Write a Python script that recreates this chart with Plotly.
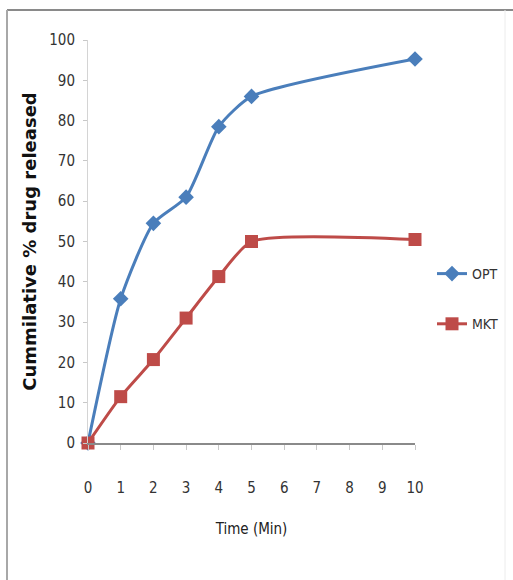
import plotly.graph_objects as go

# Dissolution time points (min) and cumulative % drug released
time_min = [0, 1, 2, 3, 4, 5, 10]
opt_release = [0, 35.8, 54.5, 61.0, 78.5, 86.0, 95.3]
mkt_release = [0, 11.5, 20.7, 31.0, 41.3, 50.0, 50.5]

x_ticks = list(range(0, 11))
y_ticks = list(range(0, 101, 10))

BLUE = "#4a7ebb"
RED = "#be4b48"
NARROW = "DejaVu Sans Condensed, Liberation Sans Narrow, Arial Narrow, sans-serif"

fig = go.Figure()
fig.add_trace(go.Scatter(
    x=time_min, y=opt_release, name="OPT", mode="lines+markers",
    line=dict(color=BLUE, width=3, shape="spline", smoothing=0.6),
    marker=dict(symbol="diamond", size=12, color=BLUE),
    legendgroup="a", cliponaxis=False,
))
fig.add_trace(go.Scatter(
    x=time_min, y=mkt_release, name="MKT", mode="lines+markers",
    line=dict(color=RED, width=3, shape="spline", smoothing=0.6),
    marker=dict(symbol="square", size=13, color=RED),
    legendgroup="b", cliponaxis=False,
))

# plot area spans 88..415 px horizontally, 40..443 px vertically
L, R, T, B = 88, 415, 40, 443
W, H = 513, 580
def px(xp):
    return (xp - L) / (R - L)
def py(yp):
    return (B - yp) / (B - T)

shapes = [
    dict(type="line", xref="paper", yref="paper", x0=px(7), x1=px(513), y0=py(10), y1=py(10),
         line=dict(color="#8a8a8a", width=2)),
    dict(type="line", xref="paper", yref="paper", x0=px(7), x1=px(7), y0=py(10), y1=py(585),
         line=dict(color="#a8a8a8", width=2)),
    dict(type="line", xref="paper", yref="paper", x0=px(505), x1=px(505), y0=py(10), y1=py(585),
         line=dict(color="#ececec", width=1)),
]

fig.update_layout(
    width=W, height=H,
    margin=dict(l=L, r=W - R, t=T, b=H - B, autoexpand=False),
    paper_bgcolor="white", plot_bgcolor="white",
    showlegend=True,
    legend=dict(xref="container", yref="container",
                x=432 / W, y=1 - 258 / H, xanchor="left", yanchor="top",
                font=dict(family=NARROW, size=14, color="#333"),
                tracegroupgap=29, traceorder="grouped",
                bgcolor="rgba(0,0,0,0)"),
    shapes=shapes,
    xaxis=dict(
        range=[0, 10], tickmode="array", tickvals=x_ticks,
        ticktext=[str(v) for v in x_ticks],
        showline=True, linecolor="#8a8a8a", linewidth=1.5,
        ticks="outside", ticklen=5, tickcolor="#c8c8c8",
        ticklabelstandoff=25,
        showgrid=False, zeroline=False,
        tickfont=dict(family=NARROW, size=15, color="#333"),
        title=dict(text="Time (Min)", standoff=28,
                   font=dict(family=NARROW, size=15, color="#222")),
    ),
    yaxis=dict(
        range=[0, 100], tickmode="array", tickvals=y_ticks,
        ticktext=[str(v) for v in y_ticks],
        showline=True, linecolor="#d4d4d4", linewidth=1,
        ticks="outside", ticklen=4, tickcolor="#c8c8c8",
        ticklabelstandoff=5,
        showgrid=False, zeroline=False,
        tickfont=dict(family=NARROW, size=15, color="#333"),
        title=dict(text="Cummilative % drug released", standoff=7,
                   font=dict(family="DejaVu Sans", size=18, color="#111", weight="bold")),
    ),
)

fig.write_html("out.html")
